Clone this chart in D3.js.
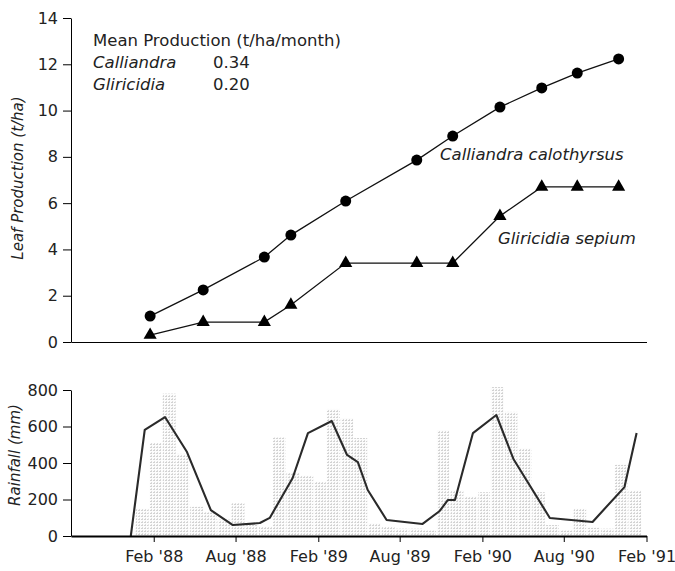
<!DOCTYPE html>
<html>
<head>
<meta charset="utf-8">
<script src="https://cdn.jsdelivr.net/npm/d3@7"></script>
<style>
  body { margin: 0; background: #fff; }
  svg text { font-family: "DejaVu Sans", sans-serif; fill: #222; }
</style>
</head>
<body>
<svg id="viz" width="675" height="571"></svg>
<script>
// leaf production sample dates (shared by both species)
const harvest_dates = ["1988-01-24", "1988-05-21", "1988-10-04", "1988-12-02", "1989-04-03",
  "1989-09-08", "1989-11-27", "1990-03-12", "1990-06-13", "1990-08-31", "1990-12-01"];
const calliandra = [1.12, 2.25, 3.67, 4.62, 6.09, 7.86, 8.9, 10.15, 10.98, 11.62, 12.23];
const gliricidia = [0.3, 0.86, 0.86, 1.6, 3.41, 3.41, 3.41, 5.44, 6.7, 6.7, 6.7];

// monthly rainfall (mm), Jan 1988 .. Jan 1991
const rain_months = ["1988-01", "1988-02", "1988-03", "1988-04", "1988-05", "1988-06", "1988-07",
  "1988-08", "1988-09", "1988-10", "1988-11", "1988-12", "1989-01", "1989-02", "1989-03",
  "1989-04", "1989-05", "1989-06", "1989-07", "1989-08", "1989-09", "1989-10", "1989-11",
  "1989-12", "1990-01", "1990-02", "1990-03", "1990-04", "1990-05", "1990-06", "1990-07",
  "1990-08", "1990-09", "1990-10", "1990-11", "1990-12", "1991-01"];
const rain_mm = [150, 510, 780, 450, 160, 130, 90, 180, 60, 50, 540, 345, 330, 296, 696, 646,
  537, 70, 50, 40, 40, 30, 580, 250, 215, 240, 816, 680, 480, 240, 60, 30, 150, 45, 40, 390, 250];

// rainfall trend line
const trend_dates = ["1987-12-12", "1988-01-12", "1988-02-26", "1988-04-15", "1988-06-07",
  "1988-07-26", "1988-09-24", "1988-10-16", "1988-12-06", "1989-01-09", "1989-03-03",
  "1989-04-06", "1989-04-30", "1989-05-22", "1989-07-03", "1989-09-21", "1989-10-29",
  "1989-11-16", "1989-12-02", "1990-01-11", "1990-03-04", "1990-04-11", "1990-07-01",
  "1990-10-04", "1990-12-14", "1991-01-10"];
const trend_mm = [0, 581, 652, 460, 142, 60, 71, 99, 318, 564, 630, 444, 405, 252, 88, 66,
  137, 197, 197, 564, 663, 422, 99, 77, 268, 564];

const x_ticks = ["1988-02-01", "1988-08-01", "1989-02-01", "1989-08-01", "1990-02-01",
  "1990-08-01", "1991-02-01"];
const leaf_ticks = [0, 2, 4, 6, 8, 10, 12, 14];
const rain_ticks = [0, 200, 400, 600, 800];

const parse = d3.utcParse("%Y-%m-%d");
const parse_month = d3.utcParse("%Y-%m");
const fmt = d3.utcFormat("%b '%y");

const svg = d3.select('#viz');

// scales
const x = d3.scaleUtc()
  .domain([parse("1987-08-01"), parse("1991-02-01")])
  .range([71, 646.5]);
const y_leaf = d3.scaleLinear().domain([0, 14]).range([342, 18]);
const y_rain = d3.scaleLinear().domain([0, 800]).range([536, 390]);

// faint stipple fill for the rainfall bars
const pat = svg.append('defs').append('pattern')
  .attr('id', 'stipple')
  .attr('patternUnits', 'userSpaceOnUse')
  .attr('width', 3).attr('height', 3);
pat.append('rect').attr('width', 3).attr('height', 3).attr('fill', '#fcfcfc');
pat.append('rect').attr('width', 2).attr('height', 1).attr('fill', '#d2d2d2');
pat.append('rect').attr('x', 1).attr('y', 2).attr('width', 1).attr('height', 1).attr('fill', '#dcdcdc');

// ---------- top panel: leaf production ----------
const top_g = svg.append('g').attr('class', 'leaf_panel');

top_g.append('g')
  .attr('transform', 'translate(71,0)')
  .call(d3.axisLeft(y_leaf).tickValues(leaf_ticks).tickSize(8).tickPadding(5).tickSizeOuter(0))
  .call(g => g.selectAll('text').attr('font-size', 16).attr('font-family', null));

top_g.append('g')
  .attr('transform', 'translate(0,' + y_leaf(0) + ')')
  .call(d3.axisBottom(x).tickValues([]).tickSizeOuter(0));

const leaf_line = d3.line()
  .x(d => x(d.date))
  .y(d => d.y);

const calli_pts = harvest_dates.map((d, i) => ({date: parse(d), y: y_leaf(calliandra[i])}));
const glir_pts = harvest_dates.map((d, i) => ({date: parse(d), y: y_leaf(gliricidia[i])}));

top_g.append('path')
  .datum(calli_pts)
  .attr('fill', 'none')
  .attr('stroke', '#111')
  .attr('stroke-width', 1.3)
  .attr('d', leaf_line);

top_g.append('path')
  .datum(glir_pts)
  .attr('fill', 'none')
  .attr('stroke', '#111')
  .attr('stroke-width', 1.3)
  .attr('d', leaf_line);

top_g.selectAll('.calli_dot')
  .data(calli_pts)
  .enter()
  .append('circle')
  .attr('class', 'calli_dot')
  .attr('cx', d => x(d.date))
  .attr('cy', d => d.y)
  .attr('r', 5.5)
  .attr('fill', '#000');

top_g.selectAll('.glir_tri')
  .data(glir_pts)
  .enter()
  .append('path')
  .attr('class', 'glir_tri')
  .attr('d', d3.symbol().type(d3.symbolTriangle).size(75))
  .attr('transform', d => 'translate(' + x(d.date) + ',' + d.y + ')')
  .attr('fill', '#000');

// mean production note
const note = top_g.append('g').attr('font-size', 16.5);
note.append('text').attr('x', 93).attr('y', 46).text('Mean Production (t/ha/month)');
note.append('text').attr('x', 93).attr('y', 68).attr('font-style', 'italic').text('Calliandra');
note.append('text').attr('x', 213).attr('y', 68).text('0.34');
note.append('text').attr('x', 93).attr('y', 90).attr('font-style', 'italic').text('Gliricidia');
note.append('text').attr('x', 213).attr('y', 90).text('0.20');

// series labels
top_g.append('text')
  .attr('x', 440).attr('y', 160)
  .attr('font-size', 16.5).attr('font-style', 'italic')
  .text('Calliandra calothyrsus');
top_g.append('text')
  .attr('x', 498).attr('y', 244)
  .attr('font-size', 16.5).attr('font-style', 'italic')
  .text('Gliricidia sepium');

top_g.append('text')
  .attr('transform', 'translate(23,' + 178 + ') rotate(-90)')
  .attr('text-anchor', 'middle')
  .attr('font-size', 15).attr('font-style', 'italic')
  .text('Leaf Production (t/ha)');

// ---------- bottom panel: rainfall ----------
const bot_g = svg.append('g').attr('class', 'rain_panel');

// bars sit about a third of a month left of the month start
const bar_shift = -9;
bot_g.selectAll('.rain_bar')
  .data(rain_months.map((m, i) => ({month: parse_month(m), mm: rain_mm[i]})))
  .enter()
  .append('rect')
  .attr('class', 'rain_bar')
  .attr('x', d => x(d3.utcDay.offset(d.month, bar_shift)))
  .attr('width', d => x(d3.utcMonth.offset(d.month, 1)) - x(d.month) - 1)
  .attr('y', d => y_rain(d.mm))
  .attr('height', d => y_rain(0) - y_rain(d.mm))
  .attr('fill', 'url(#stipple)');

bot_g.append('path')
  .datum(trend_dates.map((d, i) => ({date: parse(d), mm: trend_mm[i]})))
  .attr('fill', 'none')
  .attr('stroke', '#2a2a2a')
  .attr('stroke-width', 2.1)
  .attr('stroke-linejoin', 'round')
  .attr('d', d3.line().x(d => x(d.date)).y(d => y_rain(d.mm)));

bot_g.append('g')
  .attr('transform', 'translate(71,0)')
  .call(d3.axisLeft(y_rain).tickValues(rain_ticks).tickSize(8).tickPadding(5).tickSizeOuter(0))
  .call(g => g.selectAll('text').attr('font-size', 16).attr('font-family', null));

bot_g.append('g')
  .attr('transform', 'translate(0,' + y_rain(0) + ')')
  .call(d3.axisBottom(x).tickValues(x_ticks.map(parse)).tickFormat(fmt)
    .tickSize(6).tickPadding(9).tickSizeOuter(0))
  .call(g => g.select('.domain').attr('stroke-width', 1.8))
  .call(g => g.selectAll('text').attr('font-size', 16).attr('font-family', null));

bot_g.append('text')
  .attr('transform', 'translate(20,' + 455 + ') rotate(-90)')
  .attr('text-anchor', 'middle')
  .attr('font-size', 15).attr('font-style', 'italic')
  .text('Rainfall (mm)');
</script>
</body>
</html>
